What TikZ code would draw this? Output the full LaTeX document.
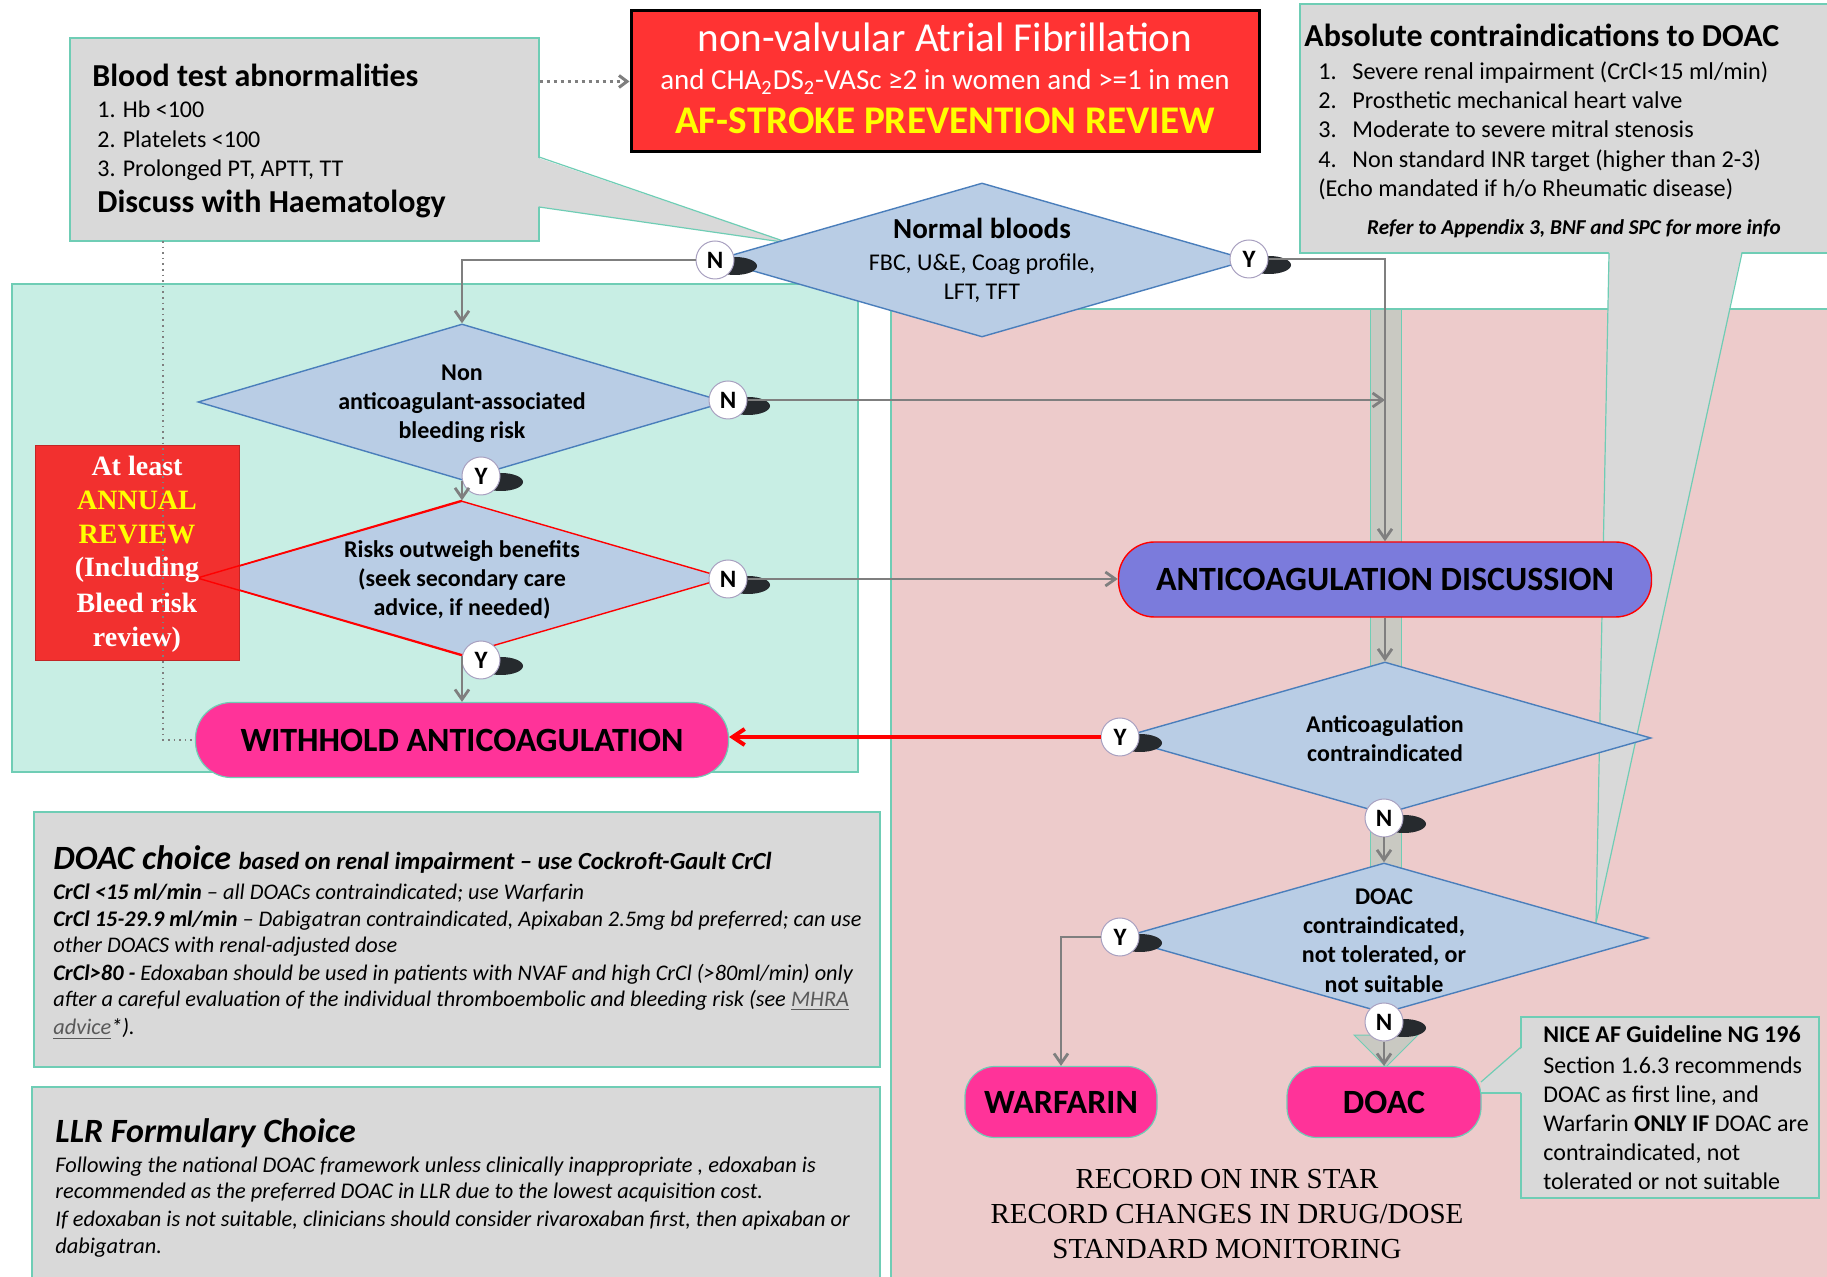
\documentclass[tikz,border=0pt]{standalone}
\usepackage{fontspec}
\setmainfont{Carlito}
\newfontfamily\timesf{Liberation Serif}
\usetikzlibrary{shapes.geometric,arrows.meta}
\definecolor{grayf}{HTML}{D9D9D9}
\definecolor{tealc}{HTML}{6FCDB5}
\definecolor{greenp}{HTML}{C8EEE4}
\definecolor{pinkp}{HTML}{EDCBCB}
\definecolor{stripc}{HTML}{C9C9C2}
\definecolor{diaf}{HTML}{B9CDE5}
\definecolor{diab}{HTML}{4A7EBB}
\definecolor{redt}{HTML}{FF3333}
\definecolor{reda}{HTML}{F2302F}
\definecolor{hotp}{HTML}{FF3399}
\definecolor{discf}{HTML}{7B7BDC}
\definecolor{arrg}{HTML}{7F7F7F}
\definecolor{shad}{HTML}{262A2E}
\definecolor{yel}{HTML}{FFFF00}
\definecolor{linkg}{HTML}{595959}
\definecolor{circb}{HTML}{A8A0C0}
\newcommand\fs[1]{\fontsize{#1}{#1}\selectfont}
\newcommand\ynode[3]{\fill[shad,shift={(#2)}] (20,6) ellipse [x radius=11pt,y radius=4.5pt];\node[yn] (#1) at (#2) {#3};}
\begin{document}
\begin{tikzpicture}[x=0.5pt,y=-0.5pt,
 tl/.style={inner sep=0pt,anchor=base west},
 tm/.style={inner sep=0pt,anchor=base},
 dia/.style={diamond,draw=diab,fill=diaf,line width=0.7pt,inner sep=0pt},
 yn/.style={circle,draw=circb,fill=white,line width=0.5pt,minimum size=19pt,inner sep=0pt,font=\bfseries\fs{12.5}},
 arr/.style={draw=arrg,line width=1.4pt,-{Straight Barb[length=5pt,width=7pt]}},
 pill/.style={rectangle,rounded corners=18pt,minimum width=266.5pt,minimum height=37.5pt,inner sep=0pt,font=\bfseries\fs{17}},
 graybox/.style={rectangle,fill=grayf,draw=tealc,line width=0.6pt,inner sep=0pt},
 ]
\fill[white] (0,0) rectangle (1827,1277);
\useasboundingbox (0,0) rectangle (1827,1277);
% panels
\draw[fill=greenp,draw=tealc,line width=0.6pt] (12,284) rectangle (858,772);
\draw[fill=pinkp,draw=tealc,line width=0.6pt] (891,309) rectangle (1835,1285);
\draw[fill=stripc,draw=tealc,line width=0.5pt] (1370,310) rectangle (1401,900);
% top-right callout
\node[graybox,minimum width=267.5pt,minimum height=124.5pt] (absb) at (1567.5,128.5) {};
\fill[grayf] (1609,250) -- (1742,250) -- (1596,923) -- cycle;
\draw[tealc,line width=0.6pt] (1609,253) -- (1596,923) -- (1742,253);
% blood callout
\node[graybox,minimum width=234.5pt,minimum height=101.5pt] (blood) at (304.5,139.5) {};
\fill[grayf] (537,157.5) -- (789,243) -- (537,206.5) -- cycle;
\draw[tealc,line width=0.6pt] (539,157) -- (789,243) -- (539,207);
% funnel triangle
\draw[fill=stripc,draw=tealc,line width=0.5pt] (1354,1035) -- (1418,1035) -- (1386,1067) -- cycle;
% diamonds
\node[dia,minimum width=267pt,minimum height=77pt] (d1) at (982,260) {};
\node[dia,minimum width=264pt,minimum height=78pt] (d2) at (462,402) {};
\node[dia,draw=red,minimum width=264pt,minimum height=77pt] (d3) at (462,578) {};
\node[dia,minimum width=266pt,minimum height=76pt] (d4) at (1385,738) {};
\node[dia,minimum width=264pt,minimum height=75pt] (d5) at (1384,938) {};
% annual review box
\node[rectangle,fill=reda,draw=reda!80!black,line width=0.5pt,minimum width=102pt,minimum height=107.5pt,inner sep=0pt] (ann) at (137,553.5) {};
\draw[red,line width=0.7pt] (d3.north) -- (d3.west) -- (d3.south);
% pills
\node[pill,fill=hotp,draw=tealc,line width=0.6pt] (wh) at (462,740) {WITHHOLD ANTICOAGULATION};
\node[pill,fill=discf,draw=red,line width=0.7pt] (disc) at (1385,579.5) {ANTICOAGULATION DISCUSSION};
\node[pill,fill=hotp,draw=tealc,line width=0.6pt,minimum width=96pt,minimum height=35.5pt,rounded corners=15pt] (warf) at (1061,1102) {WARFARIN};
\node[pill,fill=hotp,draw=tealc,line width=0.6pt,minimum width=97pt,minimum height=35.5pt,rounded corners=15pt] (doac) at (1384,1102) {DOAC};
% red title box
\node[rectangle,draw=black,fill=redt,line width=1.5pt,minimum width=314pt,minimum height=70.5pt,inner sep=0pt] (af) at (945,81.5) {};
% NICE box
\node[graybox,minimum width=149pt,minimum height=90.5pt] (nice) at (1670,1107.5) {};
\fill[grayf] (1523,1047) -- (1481,1082) -- (1481,1093) -- (1523,1093) -- cycle;
\draw[tealc,line width=0.6pt] (1521,1047) -- (1481,1082);
\draw[tealc,line width=0.6pt] (1481,1093) -- (1521,1093);
% DOAC choice and LLR boxes
\node[graybox,minimum width=423pt,minimum height=127.5pt] (choice) at (457,939.5) {};
\node[graybox,minimum width=424pt,minimum height=105pt] (llr) at (456,1192) {};
% Y/N markers
\ynode{c1}{715,260}{N}
\ynode{c2}{1249,259}{Y}
\ynode{c3}{728,400}{N}
\ynode{c4}{481,476}{Y}
\ynode{c5}{728,579}{N}
\ynode{c6}{481,660}{Y}
\ynode{c7}{1120,737}{Y}
\ynode{c8}{1384,818}{N}
\ynode{c9}{1120,937}{Y}
\ynode{c10}{1384,1022}{N}
% connectors
\draw[arr] (c1.west) -| (d2.north);
\draw[arr] (c2.east) -| (disc.north);
\draw[arr] (c3.east) -- (c3.east -| disc.north);
\draw[arr] (d2.south) -- (d3.north);
\draw[arr] (c5.east) -- (c5.east -| disc.west);
\draw[arr] (d3.south) -- (wh.north);
\draw[arr] (disc.south) -- (d4.north);
\draw[red,line width=2pt,-{Straight Barb[length=6pt,width=8pt]}] (c7.west) -- (c7.west -| wh.east);
\draw[arr] (c8.south) -- (d5.north);
\draw[arr] (c9.west) -| (warf.north);
\draw[arr] (c10.south) -- (doac.north);
\draw[arrg,line width=1.5pt,dotted,-{Straight Barb[length=4pt,width=6pt]}] (blood.east |- af.west) -- (af.west);
\coordinate (dtop) at (163,241);
\draw[arrg,line width=0.8pt,dotted] (dtop) |- (wh.west);
% red box text
\node[tm,font=\fs{20.6},white] (af1) at (945,52) {non-valvular Atrial Fibrillation};
\node[tm,font=\fs{14.5},white] (af2) at (945,90) {and CHA\textsubscript{2}DS\textsubscript{2}-VASc ≥2 in women and >=1 in men};
\node[tm,font=\bfseries\fs{19.6},yel] (af3) at (945,134) {AF-STROKE PREVENTION REVIEW};
% blood text
\node[tl,font=\bfseries\fs{16}] (bt0) at (92,87) {Blood test abnormalities};
\node[tl,font=\fs{12}] (bt1) at (97,118) {1. Hb <100};
\node[tl,font=\fs{12}] (bt2) at (97,148) {2. Platelets <100};
\node[tl,font=\fs{12}] (bt3) at (97,177) {3. Prolonged PT, APTT, TT};
\node[tl,font=\bfseries\fs{16}] (bt4) at (97,213) {Discuss with Haematology};
% absolute contraindications
\node[tl,font=\bfseries\fs{16}] (ab0) at (1304,47) {Absolute contraindications to DOAC};
\node[tl,font=\fs{12.1}] (ab1n) at (1318,80) {1.};
\node[tl,font=\fs{12.1}] (ab1) at (1352,80) {Severe renal impairment (CrCl<15 ml/min)};
\node[tl,font=\fs{12.1}] (ab2n) at (1318,109) {2.};
\node[tl,font=\fs{12.1}] (ab2) at (1352,109) {Prosthetic mechanical heart valve};
\node[tl,font=\fs{12.1}] (ab3n) at (1318,138) {3.};
\node[tl,font=\fs{12.1}] (ab3) at (1352,138) {Moderate to severe mitral stenosis};
\node[tl,font=\fs{12.1}] (ab4n) at (1318,168) {4.};
\node[tl,font=\fs{12.1}] (ab4) at (1352,168) {Non standard INR target (higher than 2-3)};
\node[tl,font=\fs{12.1}] (ab5) at (1318,197) {(Echo mandated if h/o Rheumatic disease)};
\node[tm,font=\bfseries\itshape\fs{10.6}] (ab6) at (1574,235) {Refer to Appendix 3, BNF and SPC for more info};
% diamond texts
\node[tm,font=\bfseries\fs{14.5}] (t11) at (982,239) {Normal bloods};
\node[tm,font=\fs{12}] (t12) at (982,271) {FBC, U\&E, Coag profile,};
\node[tm,font=\fs{12}] (t13) at (982,300) {LFT, TFT};
\node[tm,font=\bfseries\fs{12}] (t21) at (462,381) {Non};
\node[tm,font=\bfseries\fs{12}] (t22) at (462,410) {anticoagulant-associated};
\node[tm,font=\bfseries\fs{12}] (t23) at (462,439) {bleeding risk};
\node[tm,font=\bfseries\fs{12}] (t31) at (462,558) {Risks outweigh benefits};
\node[tm,font=\bfseries\fs{12}] (t32) at (462,587) {(seek secondary care};
\node[tm,font=\bfseries\fs{12}] (t33) at (462,616) {advice, if needed)};
\node[tm,font=\bfseries\fs{12}] (t41) at (1385,733) {Anticoagulation};
\node[tm,font=\bfseries\fs{12}] (t42) at (1385,762) {contraindicated};
\node[tm,font=\bfseries\fs{12}] (t51) at (1384,905) {DOAC};
\node[tm,font=\bfseries\fs{12}] (t52) at (1384,934) {contraindicated,};
\node[tm,font=\bfseries\fs{12}] (t53) at (1384,963) {not tolerated, or};
\node[tm,font=\bfseries\fs{12}] (t54) at (1384,993) {not suitable};
% annual review text
\node[tm,font=\timesf\bfseries\fs{14},white] (an1) at (137,476) {At least};
\node[tm,font=\timesf\bfseries\fs{14},yel] (an2) at (137,510) {ANNUAL};
\node[tm,font=\timesf\bfseries\fs{14},yel] (an3) at (137,544) {REVIEW};
\node[tm,font=\timesf\bfseries\fs{14},white] (an4) at (137,577) {(Including};
\node[tm,font=\timesf\bfseries\fs{14},white] (an5) at (137,613) {Bleed risk};
\node[tm,font=\timesf\bfseries\fs{14},white] (an6) at (137,647) {review)};
% record text
\node[tm,font=\timesf\fs{14.5}] (rc1) at (1227,1188) {RECORD ON INR STAR};
\node[tm,font=\timesf\fs{14.5}] (rc2) at (1227,1223) {RECORD CHANGES IN DRUG/DOSE};
\node[tm,font=\timesf\fs{14.5}] (rc3) at (1227,1258) {STANDARD MONITORING};
% NICE text
\node[tl,font=\bfseries\fs{12}] (ni1) at (1543,1043) {NICE AF Guideline NG 196};
\node[tl,font=\fs{12}] (ni2) at (1543,1073) {Section 1.6.3 recommends};
\node[tl,font=\fs{12}] (ni3) at (1543,1102) {DOAC as first line, and};
\node[tl,font=\fs{12}] (ni4) at (1543,1131) {Warfarin \textbf{ONLY IF} DOAC are};
\node[tl,font=\fs{12}] (ni5) at (1543,1160) {contraindicated, not};
\node[tl,font=\fs{12}] (ni6) at (1543,1189) {tolerated or not suitable};
% DOAC choice text
\node[tl,font=\bfseries\itshape\fs{17}] (ch0) at (53,870) {DOAC choice {\fs{12.3}based on renal impairment -- use Cockroft-Gault CrCl}};
\node[tl,font=\itshape\fs{11.15}] (ch1) at (53,900) {\textbf{CrCl <15 ml/min} -- all DOACs contraindicated; use Warfarin};
\node[tl,font=\itshape\fs{11.15}] (ch2) at (53,927) {\textbf{CrCl 15-29.9 ml/min} -- Dabigatran contraindicated, Apixaban 2.5mg bd preferred; can use};
\node[tl,font=\itshape\fs{11.15}] (ch3) at (53,953) {other DOACS with renal-adjusted dose};
\node[tl,font=\itshape\fs{11.15}] (ch4) at (53,980) {\textbf{CrCl>80 -} Edoxaban should be used in patients with NVAF and high CrCl (>80ml/min) only};
\node[tl,font=\itshape\fs{11.15}] (ch5) at (53,1007) {after a careful evaluation of the individual thromboembolic and bleeding risk (see \textcolor{linkg}{\underline{MHRA}}};
\node[tl,font=\itshape\fs{11.15}] (ch6) at (53,1035) {\textcolor{linkg}{\underline{advice}}*).};
% LLR text
\node[tl,font=\bfseries\itshape\fs{17}] (ll0) at (55,1142) {LLR Formulary Choice};
\node[tl,font=\itshape\fs{11.2}] (ll1) at (55,1172) {Following the national DOAC framework unless clinically inappropriate , edoxaban is};
\node[tl,font=\itshape\fs{11.2}] (ll2) at (55,1198) {recommended as the preferred DOAC in LLR due to the lowest acquisition cost.};
\node[tl,font=\itshape\fs{11.2}] (ll3) at (55,1226) {If edoxaban is not suitable, clinicians should consider rivaroxaban first, then apixaban or};
\node[tl,font=\itshape\fs{11.2}] (ll4) at (55,1253) {dabigatran.};
\end{tikzpicture}
\end{document}
